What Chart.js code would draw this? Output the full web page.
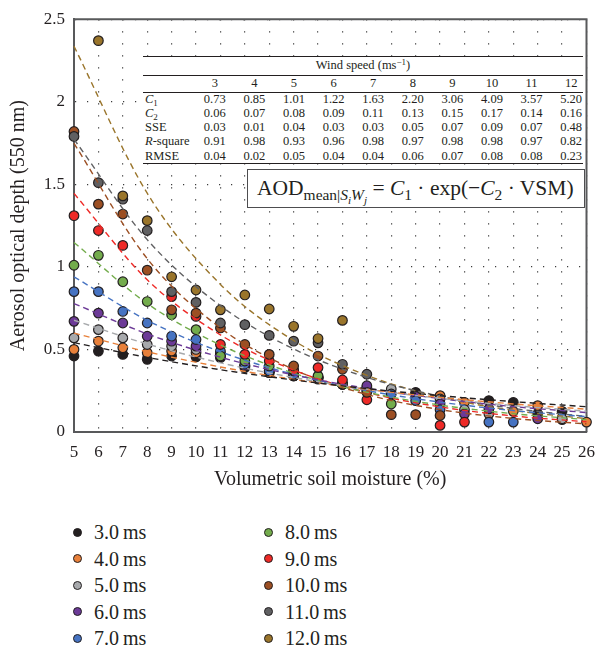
<!DOCTYPE html>
<html>
<head>
<meta charset="utf-8">
<script src="https://cdn.jsdelivr.net/npm/chart.js@4.4.1/dist/chart.umd.min.js"></script>
<style>
  body { margin: 0; background: #fff; color: #231f20; font-family: "Liberation Serif", "Times New Roman", serif; }
  #wrap { position: relative; width: 605px; height: 650px; overflow: hidden; }
  #chart { position: absolute; left: 0; top: 0; }
  #tblBox { position: absolute; left: 143px; top: 56px; width: 440px; height: 107px; background: #fff; }
  #tblBox table { border-collapse: collapse; table-layout: fixed; width: 448px; font-size: 12.5px; line-height: 1; color: #231f20; }
  #tblBox td { padding: 0; text-align: center; white-space: nowrap; }
  #tblBox td.lab { text-align: left; padding-left: 2px; }
  #tblBox tr.r1 td { height: 19px; }
  #tblBox tr.r2 td { height: 17px; }
  #tblBox tr.rd td { height: 14.2px; }
  .rule { position: absolute; left: 143px; width: 440px; background: #231f20; }
  sub { font-size: 0.72em; vertical-align: -0.32em; line-height: 0; }
  sup { font-size: 0.72em; vertical-align: 0.45em; line-height: 0; }
  #formula { position: absolute; left: 247px; top: 169px; width: 327px; height: 37px; border: 1px solid #4d4d4f;
             background: #fff; font-size: 21.5px; line-height: 37px; padding-left: 9px; box-sizing: content-box; white-space: nowrap; }
  #legend { position: absolute; left: 0; top: 0; }
  .item { position: absolute; font-size: 20px; line-height: 24px; white-space: nowrap; }
  .dot { position: absolute; width: 7px; height: 7px; border-radius: 50%; border: 1px solid #231f20; }
</style>
</head>
<body>
<div id="wrap">
  <canvas id="chart" width="605" height="500"></canvas>
  <div id="tblBox"></div>
  <div class="rule" style="top:55.5px;height:1.6px"></div>
  <div class="rule" style="top:75px;height:0.9px"></div>
  <div class="rule" style="top:92px;height:0.9px"></div>
  <div class="rule" style="top:162.5px;height:1.6px"></div>
  <div id="formula">AOD<sub>mean|<i>S<sub>i</sub>W<sub>j</sub></i></sub> = <i>C</i><sub>1</sub> · exp(−<i>C</i><sub>2</sub> · VSM)</div>
  <div id="legend"></div>
</div>
<script>
// ===== Data =====
const vsm = [5, 6, 7, 8, 9, 10, 11, 12, 13, 14, 15, 16, 17, 18, 19, 20, 21, 22, 23, 24, 25, 26];
const seriesLabels = ['3.0 ms', '4.0 ms', '5.0 ms', '6.0 ms', '7.0 ms', '8.0 ms', '9.0 ms', '10.0 ms', '11.0 ms', '12.0 ms'];

// mean AOD per soil moisture bin (null = no point visible)
const aod3  = [0.46, 0.49, 0.47, 0.44, 0.46, 0.455, 0.45, 0.39, 0.36, 0.34, 0.32, 0.29, 0.25, null, 0.24, null, null, 0.19, 0.18, 0.11, 0.125, null];
const aod4  = [0.50, 0.55, 0.51, 0.48, 0.49, 0.48, 0.46, 0.40, 0.36, 0.34, 0.33, 0.29, 0.26, null, null, 0.22, 0.18, null, 0.125, 0.16, 0.075, 0.06];
const aod5  = [0.57, 0.62, 0.57, 0.53, 0.52, 0.50, 0.47, 0.40, 0.37, 0.34, 0.33, 0.29, 0.27, 0.26, null, 0.20, 0.135, 0.11, null, null, 0.08, null];
const aod6  = [0.67, 0.72, 0.66, 0.58, 0.55, 0.52, 0.475, 0.40, 0.37, 0.35, 0.33, 0.29, 0.28, null, 0.215, 0.17, 0.11, 0.14, null, 0.08, null, null];
const aod7  = [0.85, 0.85, 0.73, 0.66, 0.58, 0.56, 0.49, 0.41, 0.37, 0.35, 0.33, 0.29, null, 0.23, 0.19, 0.135, null, 0.06, 0.06, null, null, null];
const aod8  = [1.01, 1.07, 0.91, 0.79, 0.71, 0.62, 0.46, 0.43, 0.40, 0.37, 0.34, 0.29, null, 0.17, null, null, null, null, null, null, null, null];
const aod9  = [1.31, 1.22, 1.13, null, 0.82, 0.70, 0.53, 0.47, 0.43, 0.375, 0.39, 0.315, 0.195, null, null, 0.04, 0.06, null, null, null, null, null];
const aod10 = [1.82, 1.38, 1.32, 0.98, 0.74, 0.72, 0.63, 0.53, 0.47, 0.40, 0.46, 0.38, 0.24, 0.105, 0.105, 0.10, null, null, null, null, null, null];
const aod11 = [1.79, 1.51, 1.41, 1.22, 0.85, 0.785, 0.66, 0.65, 0.585, 0.55, 0.54, 0.41, 0.35, null, null, null, null, null, null, null, null, null];
const aod12 = [null, 2.37, 1.43, 1.28, 0.94, 0.86, 0.74, 0.83, 0.745, 0.64, 0.566, 0.676, null, null, null, null, null, null, null, null, null, null];

// fitted curves
const fitVsm = [5, 8, 11, 14, 17, 20, 23, 26];
const fit3  = [0.541, 0.452, 0.377, 0.315, 0.263, 0.220, 0.184, 0.153];
const fit4  = [0.599, 0.486, 0.394, 0.319, 0.259, 0.210, 0.170, 0.138];
const fit5  = [0.677, 0.533, 0.419, 0.330, 0.259, 0.204, 0.160, 0.126];
const fit6  = [0.778, 0.594, 0.453, 0.346, 0.264, 0.202, 0.154, 0.118];
const fit7  = [0.940, 0.676, 0.486, 0.349, 0.251, 0.181, 0.130, 0.093];
const fit8  = [1.148, 0.778, 0.527, 0.356, 0.241, 0.163, 0.111, 0.075];
const fit9  = [1.445, 0.922, 0.588, 0.375, 0.239, 0.152, 0.097, 0.062];
const fit10 = [1.748, 1.050, 0.630, 0.379, 0.227, 0.136, 0.082, 0.049];
const fit11 = [1.773, 1.165, 0.765, 0.503, 0.331, 0.217, 0.143, 0.094];
const fit12 = [2.336, 1.446, 0.894, 0.554, 0.343, 0.212, 0.131, 0.081];

// table values
const windSpeeds = [3, 4, 5, 6, 7, 8, 9, 10, 11, 12];
const c1   = [0.73, 0.85, 1.01, 1.22, 1.63, 2.20, 3.06, 4.09, 3.57, 5.20];
const c2   = [0.06, 0.07, 0.08, 0.09, 0.11, 0.13, 0.15, 0.17, 0.14, 0.16];
const sse  = [0.03, 0.01, 0.04, 0.03, 0.03, 0.05, 0.07, 0.09, 0.07, 0.48];
const rsq  = [0.91, 0.98, 0.93, 0.96, 0.98, 0.97, 0.98, 0.98, 0.97, 0.82];
const rmse = [0.04, 0.02, 0.05, 0.04, 0.04, 0.06, 0.07, 0.08, 0.08, 0.23];

const yTicks = [0, 0.5, 1, 1.5, 2, 2.5];

// ===== Styles =====
const colors = ['#231f20', '#e8803a', '#a7a9ac', '#6c3a97', '#4673c2', '#73ac4c', '#ee2a27', '#9c4f23', '#606062', '#9a752b'];
const INK = '#231f20';
const FONT = '"Liberation Serif", "Times New Roman", serif';

// ===== Datasets =====
const pointSets = [aod3, aod4, aod5, aod6, aod7, aod8, aod9, aod10, aod11, aod12];
const fitSets = [fit3, fit4, fit5, fit6, fit7, fit8, fit9, fit10, fit11, fit12];
const datasets = [];

seriesLabels.forEach((label, i) => {
  datasets.push({
    type: 'line',
    label: label + ' fit',
    data: fitVsm.map((x, k) => ({ x, y: fitSets[i][k] })),
    borderColor: colors[i],
    borderWidth: 1.4,
    borderDash: [6, 4],
    pointRadius: 0,
    fill: false,
    cubicInterpolationMode: 'monotone',
    clip: false,
    order: 0
  });
  datasets.push({
    type: 'scatter',
    label,
    data: vsm.map((x, k) => ({ x, y: pointSets[i][k] })).filter(p => p.y !== null),
    backgroundColor: colors[i],
    borderColor: INK,
    borderWidth: 1.2,
    pointRadius: 4.8,
    clip: false,
    order: 20 - i
  });
});

// top + right frame lines
const framePlugin = {
  id: 'frame',
  beforeDatasetsDraw(chart) {
    const { ctx, chartArea: a } = chart;
    ctx.save();
    ctx.strokeStyle = '#58595b';
    ctx.lineWidth = 2;
    ctx.beginPath();
    ctx.moveTo(a.left, a.top);
    ctx.lineTo(a.right, a.top);
    ctx.lineTo(a.right, a.bottom);
    ctx.stroke();
    ctx.restore();
  }
};

new Chart(document.getElementById('chart'), {
  type: 'scatter',
  data: { datasets },
  plugins: [framePlugin],
  options: {
    responsive: false,
    animation: false,
    events: [],
    layout: { padding: { top: 14, right: 11, left: 0, bottom: 0 } },
    plugins: { legend: { display: false }, tooltip: { enabled: false } },
    scales: {
      x: {
        type: 'linear', min: 5, max: 26,
        afterFit: s => { s.height = 68; },
        ticks: { stepSize: 1, color: INK, padding: 10, font: { family: FONT, size: 17 } },
        grid: { color: '#3c3c3c', lineWidth: 1.2, drawTicks: false },
        border: { display: true, color: '#58595b', width: 2, dash: [1.2, 10.8] },
        title: { display: true, text: 'Volumetric soil moisture (%)', color: INK, padding: { top: 0, bottom: 8 }, font: { family: FONT, size: 20 } }
      },
      y: {
        type: 'linear', min: 0, max: 2.5,
        afterFit: s => { s.width = 74; },
        afterBuildTicks: s => { s.ticks = yTicks.map(v => ({ value: v })); },
        ticks: { color: INK, padding: 9, font: { family: FONT, size: 17 }, callback: v => String(v) },
        grid: { color: '#3c3c3c', lineWidth: 1.2, drawTicks: false },
        border: { display: true, color: '#58595b', width: 2, dash: [1.2, 10.8] },
        title: { display: true, text: 'Aerosol optical depth (550 nm)', color: INK, padding: { top: 7, bottom: 0 }, font: { family: FONT, size: 20 } }
      }
    }
  }
});

// ===== Fit table =====
const fmt = v => v.toFixed(2);
const row = (lab, arr) => `<tr class="rd"><td class="lab">${lab}</td>${arr.map(v => `<td>${fmt(v)}</td>`).join('')}</tr>`;
document.getElementById('tblBox').innerHTML =
  `<table><colgroup><col style="width:52px">${windSpeeds.map(() => '<col style="width:39.6px">').join('')}</colgroup>
   <tr class="r1"><td colspan="11" style="padding-right:8px">Wind speed (ms<sup>−1</sup>)</td></tr>
   <tr class="r2"><td></td>${windSpeeds.map(w => `<td>${w}</td>`).join('')}</tr>
   ${row('<i>C</i><sub>1</sub>', c1)}
   ${row('<i>C</i><sub>2</sub>', c2)}
   ${row('SSE', sse)}
   ${row('<i>R</i>-square', rsq)}
   ${row('RMSE', rmse)}
   </table>`;

// ===== Legend (two columns of five) =====
const legend = document.getElementById('legend');
seriesLabels.forEach((label, i) => {
  const col = Math.floor(i / 5), r = i % 5;
  const cx = 77 + col * 191, cy = 532 + r * 26.5;
  const item = document.createElement('div');
  item.className = 'item';
  item.style.left = (cx + 17) + 'px';
  item.style.top = (cy - 12) + 'px';
  item.textContent = label.replace(' ', '\u2009');
  const dot = document.createElement('div');
  dot.className = 'dot';
  dot.style.left = (cx - 4.5) + 'px';
  dot.style.top = (cy - 4.5) + 'px';
  dot.style.background = colors[i];
  legend.appendChild(dot);
  legend.appendChild(item);
});
</script>
</body>
</html>
